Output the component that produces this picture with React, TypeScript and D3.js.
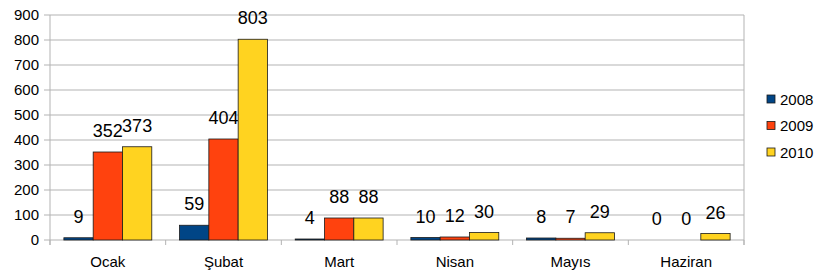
import React from "react";
import * as d3 from "d3";

const categories = ["Ocak", "Şubat", "Mart", "Nisan", "Mayıs", "Haziran"];
const seriesNames = ["2008", "2009", "2010"];
const values2008 = [9, 59, 4, 10, 8, 0];
const values2009 = [352, 404, 88, 12, 7, 0];
const values2010 = [373, 803, 88, 30, 29, 26];
const yTicks = [0, 100, 200, 300, 400, 500, 600, 700, 800, 900];
const colors = ["#004586", "#ff420e", "#ffd320"];

const W = 818;
const H = 278;
const left = 50;
const right = 744;
const top = 15;
const bottom = 240;
const font = "'Liberation Sans', Arial, sans-serif";

export default function App() {
  const series = [values2008, values2009, values2010];
  const x0 = d3.scaleBand<string>().domain(categories).range([left, right]).paddingInner(0).paddingOuter(0);
  const inner = x0.bandwidth() * 0.76;
  const x1 = d3.scaleBand<string>().domain(seriesNames).range([0, inner]).padding(0);
  const off = (x0.bandwidth() - inner) / 2;
  const y = d3.scaleLinear().domain([0, 900]).range([bottom, top]);
  const boundaries = d3.range(categories.length + 1).map((i) => left + i * x0.bandwidth());

  return (
    <svg width={W} height={H} style={{ position: "absolute", left: 0, top: 0, background: "#fff" }} fontFamily={font}>
      {yTicks.map((t) => (
        <g key={t}>
          <line x1={left - 6} x2={right} y1={y(t)} y2={y(t)} stroke="#b3b3b3" strokeWidth={1} />
          <text x={39} y={y(t) + 5} textAnchor="end" fontSize={15} fill="#000">{t}</text>
        </g>
      ))}
      <line x1={left} x2={left} y1={top} y2={bottom + 5} stroke="#b3b3b3" />
      <line x1={right} x2={right} y1={top} y2={bottom + 5} stroke="#b3b3b3" />
      {boundaries.map((b, i) => (
        <line key={i} x1={b} x2={b} y1={bottom} y2={bottom + 5} stroke="#b3b3b3" />
      ))}
      {categories.map((c, ci) => (
        <g key={c}>
          {series.map((vals, si) => {
            const v = vals[ci];
            const bx = (x0(c) as number) + off + (x1(seriesNames[si]) as number);
            const bw = x1.bandwidth();
            return (
              <g key={si}>
                {v > 0 && (
                  <rect x={bx} y={y(v)} width={bw} height={bottom - y(v)} fill={colors[si]} stroke="#1a1a1a" strokeWidth={0.8} />
                )}
                <text x={bx + bw / 2} y={y(v) - 15} textAnchor="middle" fontSize={18} fill="#000">{v}</text>
              </g>
            );
          })}
          <text x={(x0(c) as number) + x0.bandwidth() / 2} y={267} textAnchor="middle" fontSize={15} fill="#000">{c}</text>
        </g>
      ))}
      {seriesNames.map((s, i) => (
        <g key={s}>
          <rect x={767} y={95 + i * 26.5} width={8} height={8} fill={colors[i]} stroke="#1a1a1a" strokeWidth={0.8} />
          <text x={780} y={104.5 + i * 26.5} fontSize={15} fill="#000">{s}</text>
        </g>
      ))}
    </svg>
  );
}
